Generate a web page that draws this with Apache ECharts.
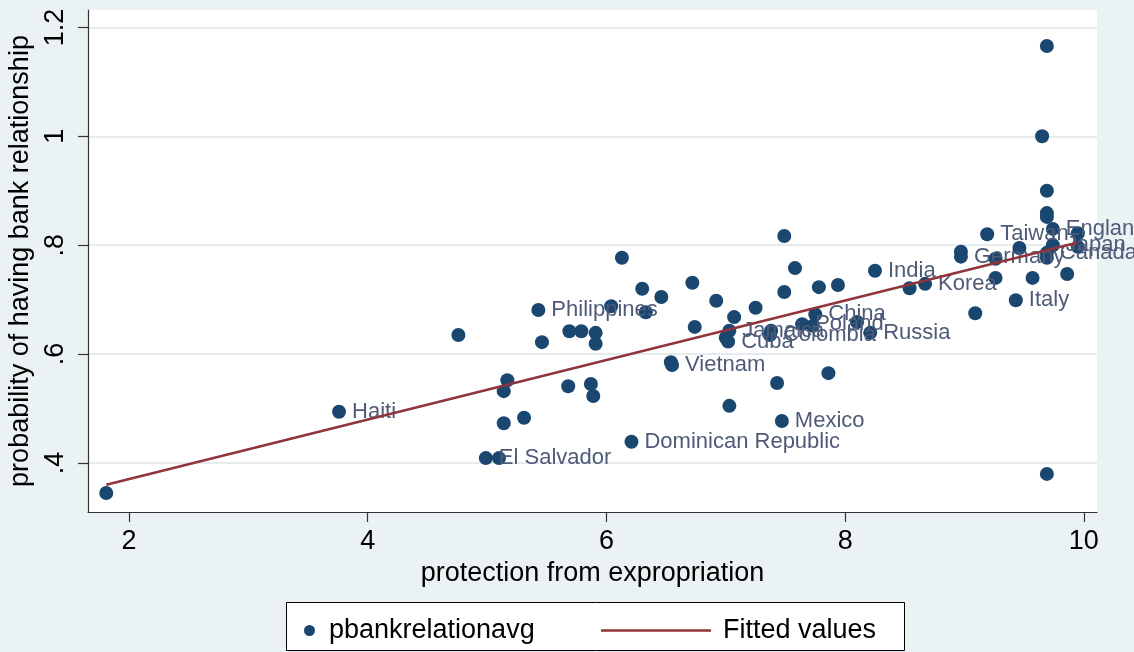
<!DOCTYPE html>
<html>
<head>
<meta charset="utf-8">
<script src="https://cdn.jsdelivr.net/npm/echarts@6/dist/echarts.min.js"></script>
<style>
  html, body { margin: 0; padding: 0; background: #eaf2f3; }
  #chart { width: 1134px; height: 652px; }
</style>
</head>
<body>
<div id="chart"></div>
<script>
// protection from expropriation
const xValues = [1.81, 3.76, 4.76, 4.99, 5.10, 5.14, 5.14, 5.17, 5.31, 5.43,
  5.46, 5.68, 5.69, 5.79, 5.87, 5.89, 5.91, 5.91, 6.04, 6.13,
  6.21, 6.30, 6.33, 6.46, 6.54, 6.55, 6.72, 6.74, 6.92, 7.00,
  7.03, 7.02, 7.07, 7.03, 7.25, 7.38, 7.37, 7.43, 7.47, 7.49,
  7.49, 7.58, 7.64, 7.73, 7.75, 7.78, 7.86, 7.94, 8.10, 8.21,
  8.25, 8.54, 8.67, 8.97, 8.97, 9.09, 9.19, 9.26, 9.26, 9.43,
  9.46, 9.57, 9.65, 9.69, 9.69, 9.69, 9.69, 9.74, 9.69, 9.69,
  9.69, 9.74, 9.86, 9.95, 9.95];
// probability of having bank relationship
const yValues = [0.345, 0.494, 0.635, 0.409, 0.409, 0.473, 0.532, 0.552, 0.483, 0.681,
  0.622, 0.541, 0.642, 0.642, 0.545, 0.523, 0.639, 0.619, 0.688, 0.777,
  0.439, 0.720, 0.677, 0.705, 0.585, 0.580, 0.731, 0.650, 0.698, 0.630,
  0.643, 0.623, 0.668, 0.505, 0.685, 0.643, 0.635, 0.547, 0.477, 0.817,
  0.714, 0.758, 0.655, 0.652, 0.673, 0.723, 0.565, 0.727, 0.659, 0.639,
  0.753, 0.721, 0.729, 0.788, 0.779, 0.675, 0.820, 0.775, 0.740, 0.699,
  0.795, 0.740, 1.000, 1.166, 0.900, 0.859, 0.852, 0.800, 0.786, 0.777,
  0.380, 0.830, 0.747, 0.822, 0.797];
const countryLabels = ['', 'Haiti', '', 'El Salvador', '', '', '', '', '', 'Philippines',
  '', '', '', '', '', '', '', '', '', '',
  'Dominican Republic', '', '', '', '', 'Vietnam', '', '', '', '',
  'Jamaica', 'Cuba', '', '', '', '', 'Colombia', '', 'Mexico', '',
  '', '', 'Poland', '', 'China', '', '', '', '', 'Russia',
  'India', '', 'Korea', '', 'Germany', '', 'Taiwan', '', '', 'Italy',
  '', '', '', '', '', '', '', 'Japan', 'Canada', '',
  '', 'England', '', '', ''];
// fitted values (linear fit, endpoints at data range)
const fitX = [1.81, 9.95];
const fitY = [0.360, 0.805];
const xTicks = [2, 4, 6, 8, 10];
const yTicks = [0.4, 0.6, 0.8, 1, 1.2];

const scatterData = xValues.map((x, i) => ({ name: countryLabels[i], value: [x, yValues[i]] }));
const fitData = fitX.map((x, i) => [x, fitY[i]]);

const FONT = '"Liberation Sans", Arial, sans-serif';
const chart = echarts.init(document.getElementById('chart'), null, { renderer: 'canvas' });
chart.setOption({
  backgroundColor: '#eaf2f3',
  animation: false,
  textStyle: { fontFamily: FONT },
  grid: {
    left: 88, right: 37, top: 10, bottom: 140, show: true,
    backgroundColor: '#ffffff', borderWidth: 0,
    containLabel: false, outerBoundsMode: 'none'
  },
  xAxis: {
    type: 'value', min: 1.657, max: 10.11,
    name: 'protection from expropriation', nameLocation: 'middle', nameGap: 46,
    nameTextStyle: { fontSize: 27, color: '#000', fontFamily: FONT },
    axisLine: { show: true, lineStyle: { color: '#333', width: 1.2 } },
    axisTick: { show: true, length: 10, lineStyle: { color: '#333', width: 1.2 }, customValues: xTicks },
    axisLabel: { fontSize: 27, color: '#000', margin: 16, fontFamily: FONT, customValues: xTicks },
    splitLine: { show: false }
  },
  yAxis: {
    type: 'value', min: 0.31, max: 1.232,
    name: 'probability of having bank relationship', nameLocation: 'middle', nameGap: 54,
    nameRotate: 90,
    nameTextStyle: { fontSize: 27, color: '#000', fontFamily: FONT },
    axisLine: { show: true, lineStyle: { color: '#333', width: 1.2 } },
    axisTick: { show: true, length: 10, lineStyle: { color: '#333', width: 1.2 }, customValues: yTicks },
    axisLabel: {
      fontSize: 27, color: '#000', margin: 19, rotate: 90, fontFamily: FONT, customValues: yTicks,
      formatter: v => String(+v.toFixed(2)).replace(/^0\./, '.')
    },
    splitLine: { show: true, lineStyle: { color: '#e6ecee', width: 2 } }
  },
  legend: [
    {
      data: [{ name: 'pbankrelationavg', icon: 'circle' }],
      left: 299, top: 612, itemWidth: 11, itemHeight: 11,
      textStyle: { fontSize: 27, color: '#000', fontFamily: FONT, padding: [0, 0, 0, 9] }
    },
    {
      data: [{ name: 'Fitted values', icon: 'rect' }],
      left: 596, top: 612, itemWidth: 110, itemHeight: 2.5,
      textStyle: { fontSize: 27, color: '#000', fontFamily: FONT, padding: [0, 0, 0, 7] }
    }
  ],
  graphic: [{
    type: 'rect', left: 286, top: 602, z: -1,
    shape: { width: 618, height: 48 },
    style: { fill: '#ffffff', stroke: '#000000', lineWidth: 1 }
  }],
  series: [
    {
      name: 'pbankrelationavg', type: 'scatter', data: scatterData,
      symbol: 'circle', symbolSize: 14,
      itemStyle: { color: '#1a476f', opacity: 1 },
      label: {
        show: true, position: 'right', distance: 6,
        formatter: p => p.name, fontSize: 22, color: '#4e5a77', fontFamily: FONT
      },
      z: 3
    },
    {
      name: 'Fitted values', type: 'line', data: fitData,
      showSymbol: false, symbol: 'none',
      lineStyle: { color: '#90353b', width: 2.5 },
      itemStyle: { color: '#90353b' },
      z: 4
    }
  ]
});
</script>
</body>
</html>
